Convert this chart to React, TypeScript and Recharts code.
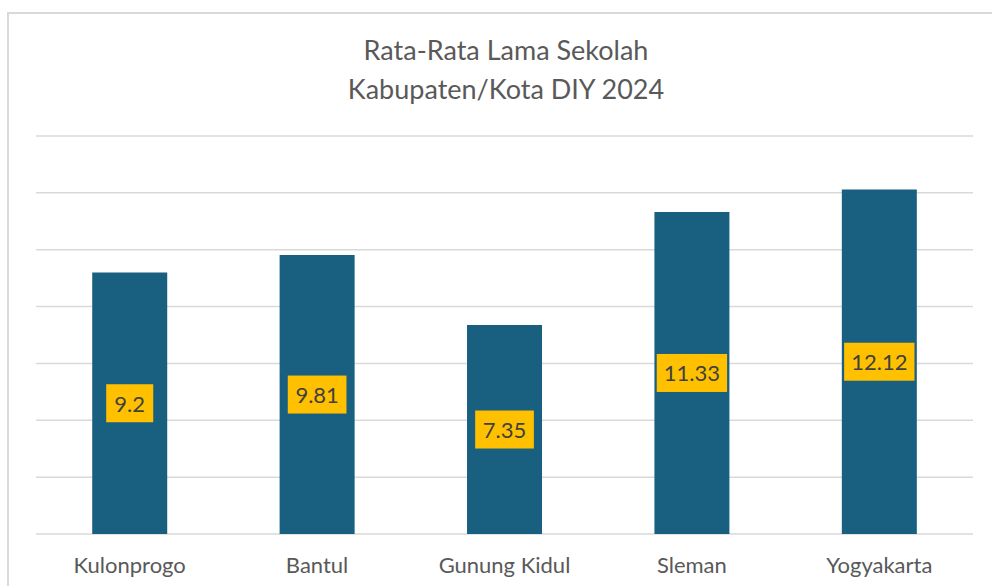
import React from 'react';
import { BarChart, Bar, XAxis, YAxis, CartesianGrid, LabelList } from 'recharts';

// Rata-rata lama sekolah per kabupaten/kota, DIY 2024
const districts = ['Kulonprogo', 'Bantul', 'Gunung Kidul', 'Sleman', 'Yogyakarta'];
const yearsOfSchooling = [9.2, 9.81, 7.35, 11.33, 12.12];
const yTicks = [0, 2, 4, 6, 8, 10, 12, 14];
const titleLines = ['Rata-Rata Lama Sekolah', 'Kabupaten/Kota DIY 2024'];

const FONT = 'Lato, "Open Sans", sans-serif';
const BAR_COLOR = '#185F80';
const LABEL_BG = '#FFC000';
const TEXT_GRAY = '#595959';

const chartData = districts.map((name, i) => ({ name, value: yearsOfSchooling[i] }));

// rough width of a number label so the yellow box hugs the text
function labelWidth(text: string, fontSize: number) {
  let w = 0;
  for (const ch of text) w += ch === '.' ? fontSize * 0.26 : fontSize * 0.53;
  return w;
}

const ValueLabel = (props: any) => {
  const { x, y, width, height, value } = props;
  const text = String(value);
  const fontSize = 22;
  const boxW = labelWidth(text, fontSize) + 18;
  const boxH = 38;
  const cx = x + width / 2;
  const cy = y + height / 2;
  return (
    <g>
      <rect x={cx - boxW / 2} y={cy - boxH / 2} width={boxW} height={boxH} fill={LABEL_BG} />
      <text
        x={cx}
        y={cy + fontSize * 0.38}
        textAnchor="middle"
        fontSize={fontSize}
        fontFamily={FONT}
        fill="#404040"
      >
        {text}
      </text>
    </g>
  );
};

export default function App() {
  return (
    <div
      style={{
        position: 'absolute',
        left: 0,
        top: 0,
        width: 992,
        height: 586,
        overflow: 'hidden',
        background: '#fff'
      }}
    >
      {/* chart frame, runs off the right/bottom edge like the original */}
      <div
        style={{
          position: 'absolute',
          left: 7,
          top: 12,
          width: 1000,
          height: 600,
          border: '2px solid #d9d9d9'
        }}
      />
      <svg
        width={992}
        height={130}
        style={{ position: 'absolute', left: 0, top: 0 }}
      >
        {titleLines.map((line, i) => (
          <text
            key={line}
            x={506}
            y={60 + i * 39}
            textAnchor="middle"
            fontSize={27}
            fontFamily={FONT}
            fill={TEXT_GRAY}
          >
            {line}
          </text>
        ))}
      </svg>
      <div style={{ position: 'absolute', left: 0, top: 0 }}>
        <BarChart
          width={992}
          height={586}
          data={chartData}
          margin={{ top: 136, right: 19, left: 36, bottom: 0 }}
          barCategoryGap="30%"
        >
          <CartesianGrid vertical={false} stroke="#d9d9d9" strokeWidth={1.5} />
          <XAxis
            dataKey="name"
            height={52}
            axisLine={false}
            tickLine={false}
            tickSize={0}
            tickMargin={23}
            tick={{ fill: TEXT_GRAY, fontSize: 22, fontFamily: FONT }}
          />
          <YAxis hide domain={[0, 14]} ticks={yTicks} />
          <Bar dataKey="value" fill={BAR_COLOR} isAnimationActive={false}>
            <LabelList dataKey="value" content={<ValueLabel />} />
          </Bar>
        </BarChart>
      </div>
    </div>
  );
}
